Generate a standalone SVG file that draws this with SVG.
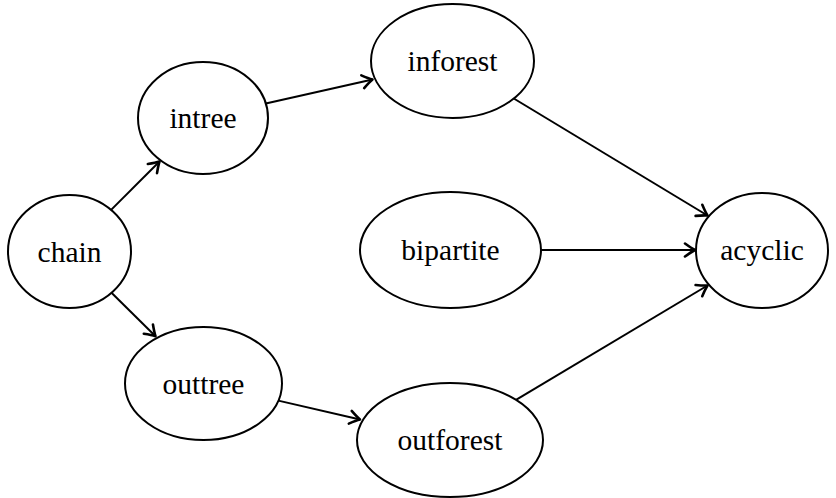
<svg xmlns="http://www.w3.org/2000/svg" width="836" height="498" viewBox="0 0 836 498">
  <style>
    .node ellipse { fill: #ffffff; stroke: #000000; stroke-width: 2; }
    .node text { font-family: "Liberation Serif", "DejaVu Serif", serif; font-size: 29.5px; fill: #000000; text-anchor: middle; }
    .edge { fill: none; stroke: #000000; stroke-width: 2; marker-end: url(#tip); }
  </style>
  <defs>
    <marker id="tip" markerUnits="userSpaceOnUse" markerWidth="18" markerHeight="18" viewBox="-13 -9 15 18" refX="0" refY="0" orient="auto">
      <path d="M -10,-6.5 Q -3.5,-1.8 0,0 Q -3.5,1.8 -10,6.5" fill="none" stroke="#000000" stroke-width="2.6" stroke-linecap="round" stroke-linejoin="round"/>
    </marker>
  </defs>

  <rect x="0" y="0" width="836" height="498" fill="#ffffff"/>

  <!-- connectors -->
  <g id="edges">
    <line class="edge" x1="111.1" y1="209.9" x2="159.5" y2="161.5"/>
    <line class="edge" x1="111.5" y1="292.8" x2="155.5" y2="336.2"/>
    <line class="edge" x1="265.8" y1="103.6" x2="372.5" y2="79.5"/>
    <line class="edge" x1="513.8" y1="98.5" x2="707.5" y2="215.5"/>
    <line class="edge" x1="541" y1="250" x2="695" y2="250"/>
    <line class="edge" x1="278.3" y1="400.6" x2="360" y2="419.5"/>
    <line class="edge" x1="516" y1="399.9" x2="707.5" y2="285.5"/>
  </g>

  <!-- nodes -->
  <g id="chain" class="node">
    <ellipse cx="69.5" cy="251.5" rx="61.5" ry="56.5"/>
    <text x="69.5" y="261.5">chain</text>
  </g>
  <g id="intree" class="node">
    <ellipse cx="203" cy="118" rx="65" ry="56"/>
    <text x="203" y="128">intree</text>
  </g>
  <g id="inforest" class="node">
    <ellipse cx="452.5" cy="61" rx="81.5" ry="57"/>
    <text x="452.5" y="71">inforest</text>
  </g>
  <g id="bipartite" class="node">
    <ellipse cx="450.5" cy="250" rx="90.5" ry="58"/>
    <text x="450.5" y="259.5">bipartite</text>
  </g>
  <g id="acyclic" class="node">
    <ellipse cx="762" cy="250.5" rx="66" ry="57.5"/>
    <text x="762" y="259.5">acyclic</text>
  </g>
  <g id="outtree" class="node">
    <ellipse cx="203.5" cy="383.5" rx="78.5" ry="56.5"/>
    <text x="203.5" y="393.5">outtree</text>
  </g>
  <g id="outforest" class="node">
    <ellipse cx="450" cy="440" rx="93" ry="57"/>
    <text x="450" y="450">outforest</text>
  </g>
</svg>
